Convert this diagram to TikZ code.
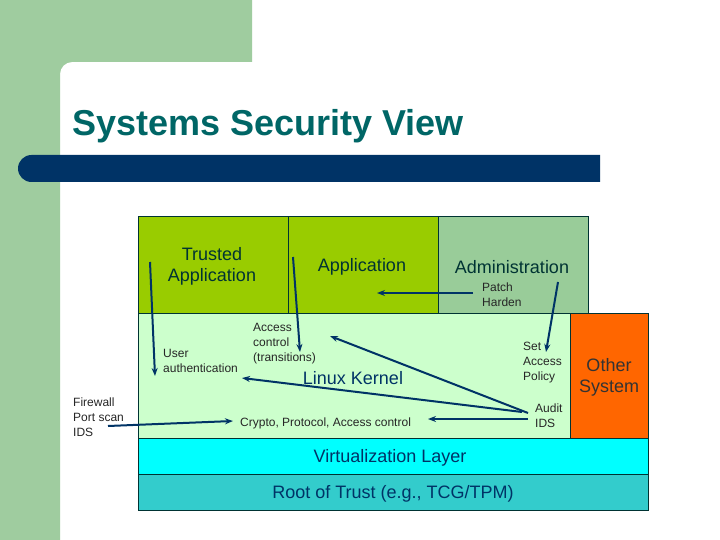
\documentclass[tikz,border=0pt]{standalone}
\usepackage{fontspec}
\setmainfont{Liberation Sans}
\usepackage{xcolor}
\usetikzlibrary{arrows.meta}

\definecolor{bggreen}{HTML}{9FCC9F}
\definecolor{barblue}{HTML}{003366}
\definecolor{titleteal}{HTML}{006666}
\definecolor{appgreen}{HTML}{99CC00}
\definecolor{admgreen}{HTML}{99CC99}
\definecolor{kernelgreen}{HTML}{CCFFCC}
\definecolor{otherorange}{HTML}{FF6600}
\definecolor{virtcyan}{HTML}{00FFFF}
\definecolor{rootteal}{HTML}{33CCCC}
\definecolor{inkdark}{HTML}{003333}

\begin{document}
\begin{tikzpicture}[x=1pt,y=-1pt,
    layer/.style={draw=inkdark, line width=0.8pt},
    big/.style={font=\fontsize{18}{21}\selectfont, text=inkdark, align=center, inner sep=0pt},
    small/.style={font=\fontsize{12}{15}\selectfont, text=black!85, align=left, anchor=west, inner sep=0pt},
    flow/.style={draw=barblue, line width=2pt, -{Stealth[length=8pt,width=6pt]}}]
        \useasboundingbox (0,0) rectangle (720,540);

        % slide background
        \fill[white] (0,0) rectangle (720,540);
        \fill[bggreen] (0,0) -- (252,0) -- (252,62) -- (72,62) arc (270:180:12) -- (60,540) -- (0,540) -- cycle;
        \fill[barblue] (600,155) -- (31.5,155) arc (270:90:13.5) -- (600,182) -- cycle;
        \node[anchor=base west, inner sep=0pt, text=titleteal, font=\fontsize{36}{40}\selectfont\bfseries] (title) at (72,136) {Systems Security View};

        % layers
        \filldraw[layer, fill=kernelgreen] (138,313) rectangle (570,438);
        \filldraw[layer, fill=appgreen] (138,216) rectangle (288,313);
        \filldraw[layer, fill=appgreen] (288,216) rectangle (438,313);
        \filldraw[layer, fill=admgreen] (438,216) rectangle (588,313);
        \filldraw[layer, fill=otherorange] (570,313) rectangle (648,438);
        \filldraw[layer, fill=virtcyan] (138,438) rectangle (648,474);
        \filldraw[layer, fill=rootteal] (138,474) rectangle (648,510);

        \node[big] (trusted) at (212,266) {Trusted\\Application};
        \node[big] (app) at (362,267) {Application};
        \node[big] (admin) at (512,267) {Administration};
        \node[big, text=barblue] (kernel) at (353,378) {Linux Kernel};
        \node[big, text=black!80] (other) at (609,377) {Other\\System};
        \node[big, text=barblue] (virt) at (390,458) {Virtualization Layer};
        \node[big, text=barblue] (root) at (393,494) {Root of Trust (e.g., TCG/TPM)};

        \node[small] (patch) at (482,295) {Patch\\Harden};
        \node[small] (access) at (253,344) {Access\\control\\(transitions)};
        \node[small] (user) at (163,361) {User\\authentication};
        \node[small] (setpol) at (523,363) {Set\\Access\\Policy};
        \node[small] (audit) at (535,416) {Audit\\IDS};
        \node[small] (firewall) at (73,417) {Firewall\\Port scan\\IDS};
        \node[small] (crypto) at (240,423) {Crypto, Protocol, Access control};

        % arrows
        \coordinate (T1) at (150,262);
        \coordinate (T2) at (155,376);
        \coordinate (A1) at (293,257);
        \coordinate (A2) at (300,352);
        \coordinate (P1) at (473,293);
        \coordinate (P2) at (377,293);
        \coordinate (S1) at (558,282);
        \coordinate (S2) at (546,352);
        \coordinate (U1) at (528,413);
        \coordinate (U2) at (330,336);
        \coordinate (U3) at (522,412);
        \coordinate (U4) at (242,378);
        \coordinate (C1) at (528,419);
        \coordinate (C2) at (428,419);
        \coordinate (F1) at (108,426);
        \coordinate (F2) at (233,421);

        \draw[flow] (T1) -- (T2);
        \draw[flow] (A1) -- (A2);
        \draw[flow] (P1) -- (P2);
        \draw[flow] (S1) -- (S2);
        \draw[flow] (U1) -- (U2);
        \draw[flow] (U3) -- (U4);
        \draw[flow] (C1) -- (C2);
        \draw[flow] (F1) -- (F2);

    \end{tikzpicture}
\end{document}
